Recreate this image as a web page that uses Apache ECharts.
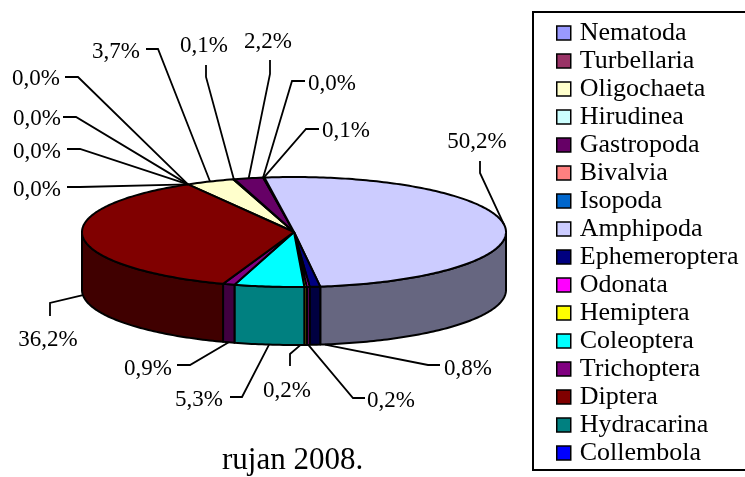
<!DOCTYPE html>
<html>
<head>
<meta charset="utf-8">
<title>rujan 2008.</title>
<script src="https://cdn.jsdelivr.net/npm/echarts@6/dist/echarts.min.js"></script>
<style>
  html, body { margin: 0; padding: 0; background: #fff; }
  #main { width: 745px; height: 477px; }
</style>
</head>
<body>
<div id="main"></div>
<script>
const categories = ['Nematoda', 'Turbellaria', 'Oligochaeta', 'Hirudinea', 'Gastropoda', 'Bivalvia', 'Isopoda', 'Amphipoda',
  'Ephemeroptera', 'Odonata', 'Hemiptera', 'Coleoptera', 'Trichoptera', 'Diptera', 'Hydracarina', 'Collembola'];
const shares = [0.0, 0.0, 3.7, 0.1, 2.2, 0.0, 0.1, 50.2, 0.8, 0.2, 0.2, 5.3, 0.9, 36.2, 0.0, 0.0];
const colors = ['#9999ff', '#993366', '#ffffcc', '#ccffff', '#660066', '#ff8080', '#0066cc', '#ccccff',
  '#000080', '#ff00ff', '#ffff00', '#00ffff', '#800080', '#800000', '#008080', '#0000ff'];

// where each label sits: text x, text y, leader end x, leader end y, elbow x, elbow y, nudge of the rim point
const labelSpots = [
  [37, 119, 63, 117, 76, 117, 0],
  [36, 79, 65, 77, 78, 77, 0],
  [116, 52, 146, 49, 158, 49, 0],
  [204, 46, 206, 65, 206, 77, 0],
  [268, 42, 270, 60, 270, 74, 0],
  [332, 84, 305, 81, 292, 81, 0],
  [346, 131, 319, 129, 306, 129, 0],
  [477, 142, 480, 161, 480, 173, 0],
  [468, 369, 440, 365, 428, 365, 10],
  [391, 401, 365, 398, 353, 398, 0],
  [287, 391, 290, 366, 290, 354, -5],
  [199, 400, 230, 397, 242, 397, 0],
  [148, 369, 177, 365, 190, 365, 0],
  [48, 340, 50, 316, 50, 303, 0],
  [37, 190, 67, 187, 80, 187, 0],
  [37, 152, 67, 149, 80, 149, 0]
];

// 3d pie look
const cx = 294, cy = 232, rx = 212, ry = 55, depth = 58;
const firstSliceAngle = -30;
const serif = '"Liberation Serif", "Times New Roman", serif';

const total = shares.reduce((a, b) => a + b, 0);
let running = 0;
const sliceAngles = shares.map(v => {
  const from = running;
  running += v;
  return [from, running].map(c => firstSliceAngle + echarts.number.linearMap(c, [0, total], [0, 360]));
});

function rimPoint(deg, drop) {
  const t = deg * Math.PI / 180;
  return [cx + rx * Math.sin(t), cy - ry * Math.cos(t) + drop];
}

function arc(a0, a1, drop) {
  const pts = [];
  const n = Math.max(1, Math.ceil(Math.abs(a1 - a0)));
  for (let k = 0; k <= n; k++) {
    pts.push(rimPoint(a0 + (a1 - a0) * k / n, drop));
  }
  return pts;
}

// side wall is the top colour at half brightness
function wallColor(color) {
  const c = echarts.color.parse(color);
  return 'rgb(' + Math.round(c[0] / 2) + ',' + Math.round(c[1] / 2) + ',' + Math.round(c[2] / 2) + ')';
}

function renderSlice(i, params, api) {
  const [a0, a1] = sliceAngles[i];
  const color = api.visual('color');
  const children = [];
  const edge = { stroke: '#000', lineWidth: 2, lineJoin: 'round' };

  if (shares[i] > 0) {
    const f0 = Math.max(a0, 90), f1 = Math.min(a1, 270);
    if (f1 > f0) {
      children.push({
        type: 'polygon', z2: 1,
        shape: { points: arc(f0, f1, 0).concat(arc(f1, f0, depth)) },
        style: Object.assign({ fill: wallColor(color) }, edge)
      });
    }
    children.push({
      type: 'polygon', z2: 2,
      shape: { points: [[cx, cy]].concat(arc(a0, a1, 0)) },
      style: Object.assign({ fill: color }, edge)
    });
  }

  const spot = labelSpots[i];
  const mid = (a0 + a1) / 2;
  const front = mid > 100 && mid < 270;
  const rim = rimPoint(mid, front ? depth : 0);
  children.push({
    type: 'polyline', z2: 3,
    shape: { points: [[spot[2], spot[3]], [spot[4], spot[5]], [rim[0] + spot[6], rim[1]]] },
    style: { fill: null, stroke: '#000', lineWidth: 1.8 }
  });
  children.push({
    type: 'text', z2: 3,
    style: {
      x: spot[0], y: spot[1],
      text: shares[i].toFixed(1).replace('.', ',') + '%',
      font: '23px ' + serif, fill: '#000',
      textAlign: 'center', textVerticalAlign: 'middle'
    }
  });
  return { type: 'group', children };
}

const chart = echarts.init(document.getElementById('main'), null, { renderer: 'canvas' });
chart.setOption({
  animation: false,
  backgroundColor: '#fff',
  title: {
    text: 'rujan 2008.',
    left: 222, top: 445, padding: 0,
    textStyle: { fontFamily: serif, fontSize: 31, fontWeight: 'normal', color: '#000' }
  },
  legend: {
    orient: 'vertical',
    left: 533, top: 12,
    padding: [8, 60, 4, 23],
    itemWidth: 14, itemHeight: 14, itemGap: 2,
    icon: 'rect',
    selectedMode: false,
    borderColor: '#000', borderWidth: 2,
    itemStyle: { borderColor: '#000', borderWidth: 1.5 },
    textStyle: { fontFamily: serif, fontSize: 26, color: '#000', padding: [0, 0, 0, 4] },
    data: categories
  },
  series: categories.map((name, i) => ({
    type: 'custom',
    name: name,
    coordinateSystem: 'none',
    silent: true,
    // the yellow sliver sits under its neighbours' outlines in the original
    z: name === 'Hemiptera' ? 1 : 2,
    itemStyle: { color: colors[i] },
    data: [[shares[i]]],
    renderItem: (params, api) => renderSlice(i, params, api)
  }))
});
</script>
</body>
</html>
